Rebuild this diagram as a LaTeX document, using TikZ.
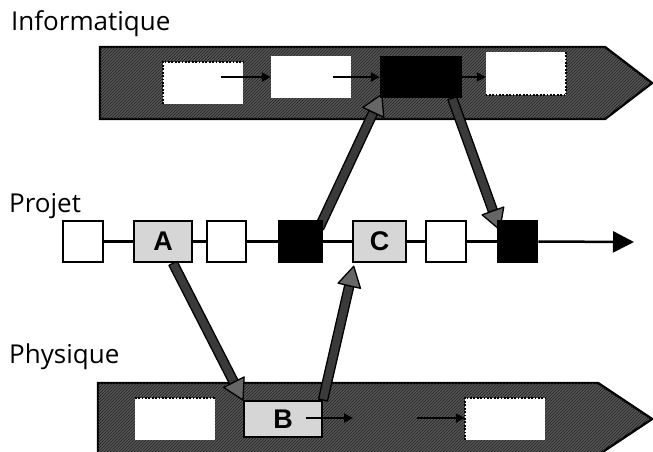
\documentclass[tikz,border=0pt]{standalone}
\usepackage{fontspec}
\setmainfont{Open Sans}
\newfontfamily\letterfont{Liberation Sans}
\usetikzlibrary{calc,patterns,arrows.meta}

\pgfdeclarelayer{bg}
\pgfdeclarelayer{mid}
\pgfdeclarelayer{front}
\pgfsetlayers{bg,mid,main,front}

\definecolor{bandgray}{HTML}{575757}
\definecolor{hatch}{HTML}{222222}
\definecolor{lightbox}{HTML}{D6D6D6}
\definecolor{shaftgray}{HTML}{3A3A3A}
\definecolor{headgray}{HTML}{666666}

\tikzset{
  band/.style={draw=black, line width=2.4pt, line join=miter, fill=bandgray,
    postaction={pattern=north east lines, pattern color=hatch}},
  slot/.style={fill=white, draw=none, inner sep=0pt, minimum width=80pt, minimum height=42pt},
  dotedge/.style={draw=black, line width=1.8pt, dash pattern=on 1.8pt off 1.6pt},
  flow/.style={draw=black, line width=2pt, -{Triangle[length=9pt, width=9pt]}},
  pbox/.style={draw=black, line width=2.5pt, fill=white, inner sep=0pt, minimum height=41pt},
  lettered/.style={pbox, fill=lightbox, font=\letterfont\bfseries\fontsize{27}{27}\selectfont},
  kbox/.style={pbox, fill=black},
  projline/.style={draw=black, line width=2.5pt},
  heading/.style={anchor=base west, inner sep=0pt, font=\fontsize{26}{26}\selectfont},
}

% thick outlined arrow: shaft plus triangular head
% #1 start, #2 tip, #3 name prefix
\newcommand\bigarrow[3]{%
  \coordinate (#3-b) at ($(#2)!20pt!(#1)$);
  \filldraw[fill=shaftgray, draw=black, line width=1.3pt, line join=round]
    ($(#1)!4.6pt!90:(#2)$) -- ($(#3-b)!4.6pt!90:(#2)$) --
    ($(#3-b)!4.6pt!-90:(#2)$) -- ($(#1)!4.6pt!-90:(#2)$) -- cycle;
  \filldraw[fill=headgray, draw=black, line width=1.3pt, line join=round]
    ($(#3-b)!11.5pt!90:(#2)$) -- (#2) -- ($(#3-b)!11.5pt!-90:(#2)$) -- cycle;
}

\begin{document}
\begin{tikzpicture}[x=1pt, y=-1pt]
\useasboundingbox (0,0) rectangle (653,451);

% the two arrow-shaped bands over a white page
\begin{pgfonlayer}{bg}
  \fill[white] (0,0) rectangle (653,451);
  \draw[band] (100,47) -- (605,47) -- (652,83) -- (605,119) -- (100,119) -- cycle;
  \draw[band] (98,383) -- (598,383) -- (652,419) -- (598,455) -- (98,455) -- cycle;
\end{pgfonlayer}

% section titles
\node[heading] (tInf) at (11,30) {Informatique};
\node[heading] (tPro) at (9,212) {Projet};
\node[heading] (tPhy) at (9,363) {Physique};

% Informatique band slots
\node[slot] (I1) at (203,83) {};
\node[slot] (I2) at (311,77) {};
\node[slot, fill=black, minimum width=82pt] (I3) at (421,77) {};
\node[slot, minimum height=43pt] (I4) at (526,73.5) {};

% Physique band slots
\node[slot] (P1) at (175,419) {};
\node[lettered, minimum width=78pt, minimum height=36pt, line width=2pt] (B) at (283,419) {B};
\node[slot] (P3) at (505,419) {};

% Projet timeline
\node[pbox, minimum width=40pt] (p1) at (83,241.5) {};
\node[lettered, minimum width=58pt] (A) at (163,241.5) {A};
\node[pbox, minimum width=39pt] (p3) at (226.5,241.5) {};
\node[kbox, minimum width=43pt] (k1) at (300.5,241.5) {};
\node[lettered, minimum width=53pt] (C) at (379.5,241.5) {C};
\node[pbox, minimum width=40pt] (p6) at (446,241.5) {};
\node[kbox, minimum width=39pt] (k2) at (517.5,241.5) {};
\coordinate (pend) at (634,242);

\draw[projline] (p1.east) -- (A.west) (A.east) -- (p3.west)
  (p3.east) -- (k1.west) (k1.east) -- (C.west) (C.east) -- (p6.west)
  (p6.east) -- (k2.west);
\draw[projline, -{Triangle[length=21pt, width=21pt]}] (k2.east) -- (pend);

% dependencies between the timeline and the bands
\begin{pgfonlayer}{mid}
  \coordinate (sA) at ($(A.south)+(10,0)$);
  \bigarrow{sA}{B.north west}{ab}
  \coordinate (tC) at ($(C.south west)+(2,3)$);
  \bigarrow{B.north east}{tC}{bc}
  \coordinate (sK1) at ($(k1.north east)+(-4,8)$);
  \coordinate (tI3) at ($(I3.south west)+(2,-4)$);
  \bigarrow{sK1}{tI3}{ki}
  \coordinate (sI3) at ($(I3.south east)+(-10,0)$);
  \coordinate (tK2) at ($(k2.north west)+(3,10)$);
  \bigarrow{sI3}{tK2}{ik}
\end{pgfonlayer}

% slot borders and flows inside the bands
\begin{pgfonlayer}{front}
  \draw[dotedge] (I1.south west) -- (I1.north west) -- (I1.north east);
  \draw[dotedge] (I4.north east) -- (I4.south east) -- (I4.south west);
  \draw[dotedge] (P1.north west) -- (P1.north east);
  \draw[dotedge] (P3.south west) -- (P3.north west) -- (P3.north east);

  \coordinate (f1) at (221,77);
  \draw[flow] (f1) -- (I2.west);
  \coordinate (f2) at (333,77);
  \draw[flow] (f2) -- (I3.west);
  \draw[flow] (I3.east) -- (I4.west |- I3.east);

  \coordinate (g1) at (306,418);
  \coordinate (g2) at (353,418);
  \draw[flow] (g1) -- (g2);
  \coordinate (g3) at (417,418);
  \draw[flow] (g3) -- (P3.west |- g3);
\end{pgfonlayer}
\end{tikzpicture}
\end{document}
